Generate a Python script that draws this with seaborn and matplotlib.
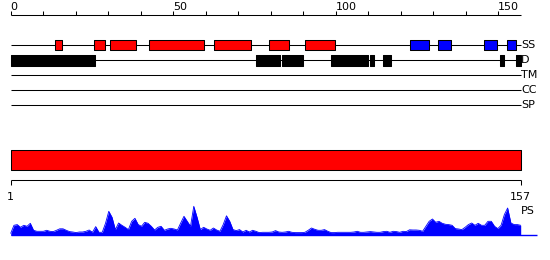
import matplotlib
matplotlib.use("Agg")
import matplotlib.pyplot as plt
import seaborn as sns
import pandas as pd

# ---------------- data ----------------
seq_len = 157
track_names = ["SS", "D", "TM", "CC", "SP"]

ss_helix_start = [13.7, 25.7, 30.6, 42.6, 62.6, 79.6, 90.6]
ss_helix_end = [15.7, 28.9, 38.7, 59.6, 73.8, 85.7, 99.7]
ss_strand_start = [122.7, 131.6, 145.7, 152.8]
ss_strand_end = [128.8, 135.6, 149.7, 155.6]

dis_start = [0.0, 75.5, 83.6, 98.6, 110.5, 114.5, 150.5, 155.5]
dis_end = [26.0, 82.7, 89.8, 109.8, 111.8, 116.9, 151.7, 157.0]

top_ticks = list(range(0, 151, 10))
top_labels = [0, 50, 100, 150]

domain_start, domain_end = 1, 157
domain_labels = ["1", "157"]
ps_label = "PS"

ps_values = [
    2, 10, 10.7, 8, 10, 9, 12, 5, 4, 4,
    4, 5, 4, 3.7, 5, 6.5, 6.5, 5, 3.7, 3.3,
    2.7, 3.3, 3.3, 4, 5.3, 3, 8.7, 3, 3, 12,
    24, 18, 5.7, 12.3, 10, 8, 5.7, 14, 17, 10.7,
    9, 13, 12, 9, 5.3, 8, 9, 5, 6.3, 7,
    6.3, 5.3, 12.3, 19, 14, 9, 29, 18, 5.7, 8,
    6.3, 5, 7.3, 5.3, 4, 10.7, 19.5, 14, 5.7, 4.7,
    5.7, 3.3, 5, 3.3, 5, 4, 2.7, 3, 3, 3,
    3.3, 4.7, 3.3, 3, 3.3, 4, 3, 2.7, 2.7, 2.7,
    3, 5, 7.3, 6, 5, 5, 5.7, 4, 2.7, 2.7,
    3, 3, 3, 3, 3, 3.3, 4, 3, 3, 3.3,
    3.7, 3.3, 3, 3, 3.7, 4, 3, 4, 3.7, 3,
    4, 3.7, 5.5, 5.3, 5.3, 5, 4, 9, 14, 16.3,
    13, 14, 12, 11, 10.7, 10, 6.7, 6.3, 5.7, 8,
    10.7, 12.3, 10, 12, 10, 10, 14, 14, 9, 6.7,
    10, 20.7, 27.3, 12.3, 10.7, 10.7, 10,
]
residues = list(range(1, seq_len + 1))
ps_df = pd.DataFrame({"residue": residues, "ps": ps_values})

# ---------------- style / layout ----------------
sns.set_theme(style="white")
plt.rcParams["font.family"] = ["DejaVu Sans"]
W, H = 550, 260
FS = 8
LW = 0.75
RED, BLUE, BLACK = "#ff0000", "#0000ff", "#000000"

fig = plt.figure(figsize=(W / 100, H / 100), dpi=100, facecolor="white")

# top panel: x in residue units (0..157), y in pixel rows
x0_top = 10.7
ppr_top = (521.0 - x0_top) / seq_len
ax_t = fig.add_axes([0, 0, 1, 1])
ax_t.set_xlim(-x0_top / ppr_top, (W - x0_top) / ppr_top)
ax_t.set_ylim(H, 0)
ax_t.axis("off")

# scale
ax_t.hlines(15, 0, seq_len, color=BLACK, lw=LW)
ax_t.vlines(top_ticks, 11, 15, color=BLACK, lw=LW)
for v in top_labels:
    ax_t.text(v, 9.8, str(v), ha="left", va="baseline", fontsize=FS, color=BLACK)

# tracks
track_y = [45, 60, 75, 90, 105]
ax_t.hlines(track_y, 0, seq_len, color=BLACK, lw=LW, zorder=1)
for name, y in zip(track_names, track_y):
    ax_t.text(seq_len, y, name, ha="left", va="center", fontsize=FS, color=BLACK)

ax_t.broken_barh([(s, e - s) for s, e in zip(ss_helix_start, ss_helix_end)],
                 (40, 10), facecolors=RED, edgecolors=BLACK, lw=LW, zorder=2)
ax_t.broken_barh([(s, e - s) for s, e in zip(ss_strand_start, ss_strand_end)],
                 (40, 10), facecolors=BLUE, edgecolors=BLACK, lw=LW, zorder=2)
ax_t.broken_barh([(s, e - s) for s, e in zip(dis_start, dis_end)],
                 (55, 11), facecolors=BLACK, edgecolors=BLACK, lw=LW, zorder=2)

# bottom panel: x in residue units (1..157)
x0_bot = 10.7
ppr_bot = (520.7 - x0_bot) / (domain_end - domain_start)
xlim_bot = (domain_start - x0_bot / ppr_bot, domain_start + (W - x0_bot) / ppr_bot)
ax_b = fig.add_axes([0, 0, 1, 1])
ax_b.set_xlim(*xlim_bot)
ax_b.set_ylim(H, 0)
ax_b.axis("off")

ax_b.broken_barh([(domain_start, domain_end - domain_start)], (150, 20.3),
                 facecolors=RED, edgecolors=BLACK, lw=LW)
ax_b.hlines(180.3, domain_start, domain_end, color=BLACK, lw=LW)
ax_b.vlines([domain_start, domain_end], 180.3, 184.5, color=BLACK, lw=LW)
for v, lab in zip([domain_start, domain_end], domain_labels):
    ax_b.text(v, 199.5, lab, ha="center", va="baseline", fontsize=FS, color=BLACK)
ax_b.text(domain_end, 210.5, ps_label, ha="left", va="center", fontsize=FS, color=BLACK)

# PS profile
base_px = 235.3
ax_p = fig.add_axes([0, (H - base_px) / H, 1, 30 / H])
ax_p.set_xlim(*xlim_bot)
ax_p.set_ylim(0, 30)
ax_p.axis("off")
ax_p.fill_between(ps_df["residue"], ps_df["ps"], 0, color=BLUE, lw=0)
sns.lineplot(data=ps_df, x="residue", y="ps", ax=ax_p, color=BLUE, lw=0.6)
ax_p.hlines(0, domain_start, domain_end + 5, color=BLUE, lw=1.0, clip_on=False)

fig.savefig("out.png", dpi=100, facecolor="white")
